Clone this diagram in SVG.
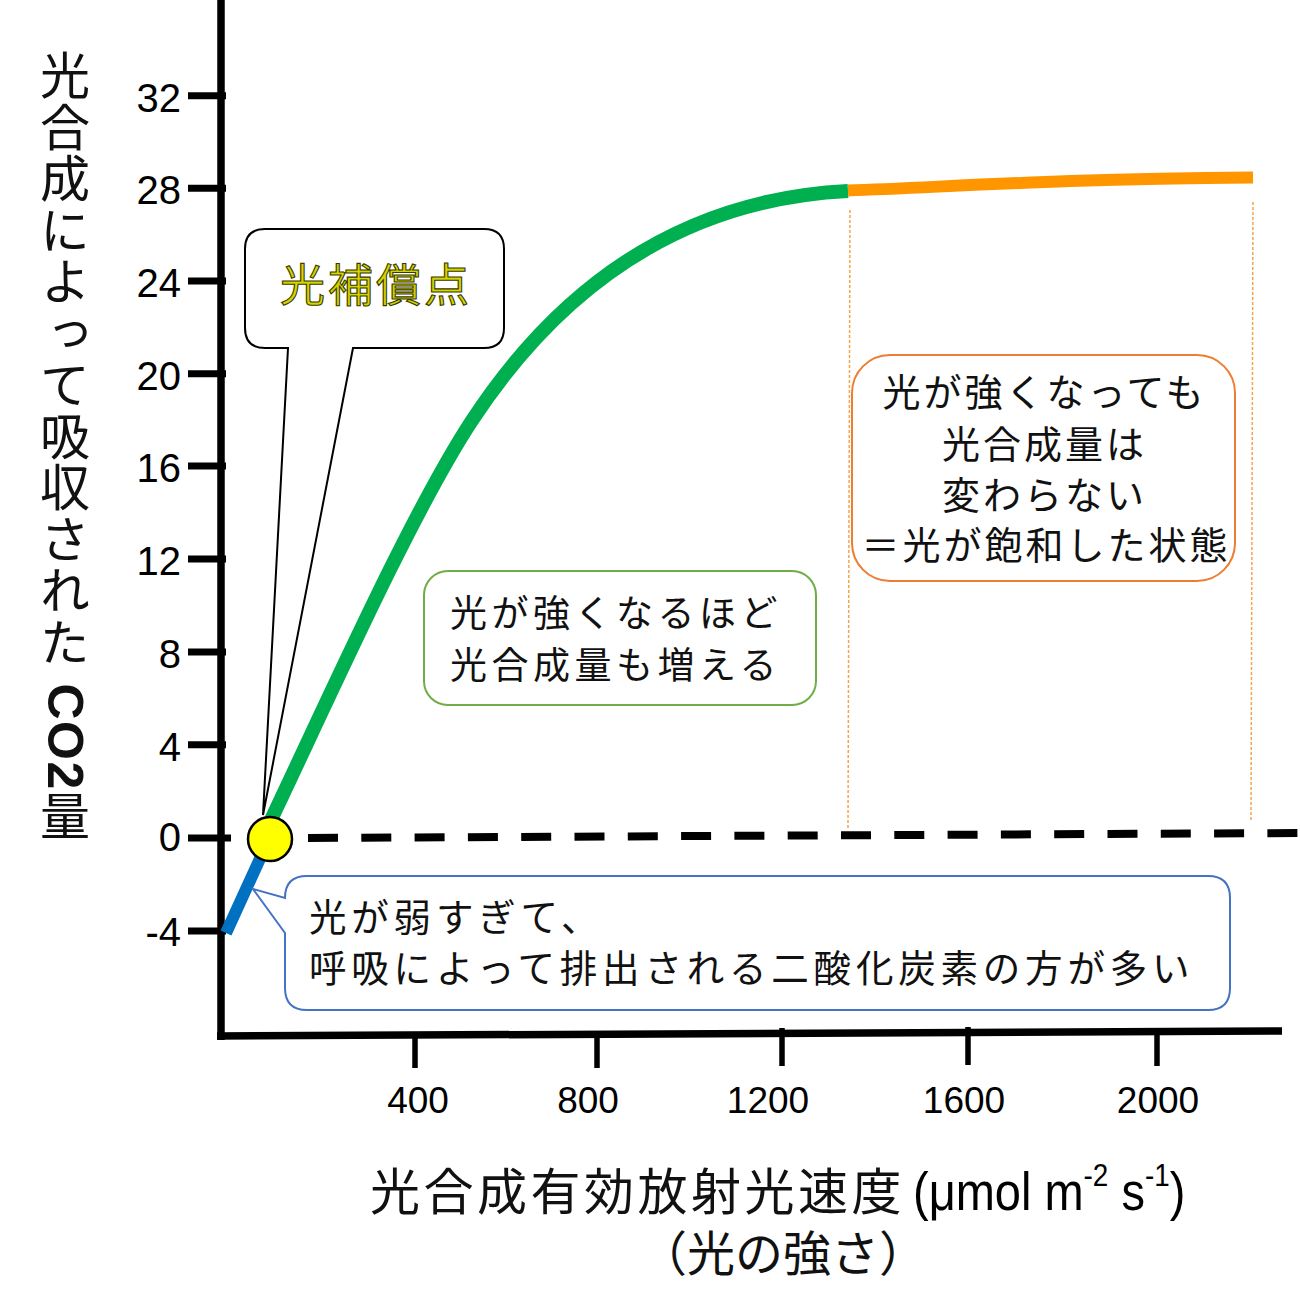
<svg xmlns="http://www.w3.org/2000/svg" width="1300" height="1314" viewBox="0 0 1300 1314">
<style>
.ax{stroke:#000;stroke-width:7.5;fill:none}
.tk{stroke:#000;stroke-width:7;fill:none}
.xt{stroke:#000;stroke-width:5.5;fill:none}
.num{font-family:"Liberation Sans",Arial,sans-serif;fill:#000}
.jp{font-family:"Noto Sans CJK JP","Noto Sans",sans-serif;fill:#111}
.dot{stroke:#F7A24A;stroke-width:1.5;stroke-dasharray:3 2;fill:none}
</style>
<rect x="0" y="0" width="1300" height="1314" fill="#fff"/>

<g id="axes">
  <line class="ax" x1="221" y1="0" x2="221" y2="1040"/>
  <line class="ax" x1="217" y1="1036" x2="1282" y2="1031"/>
  <g id="y-ticks">
    <line class="tk" x1="188" y1="95.7" x2="226" y2="95.7"/>
    <line class="tk" x1="188" y1="188.3" x2="226" y2="188.3"/>
    <line class="tk" x1="188" y1="281" x2="226" y2="281"/>
    <line class="tk" x1="188" y1="373.7" x2="226" y2="373.7"/>
    <line class="tk" x1="188" y1="466" x2="226" y2="466"/>
    <line class="tk" x1="188" y1="559" x2="226" y2="559"/>
    <line class="tk" x1="188" y1="652" x2="226" y2="652"/>
    <line class="tk" x1="188" y1="744.7" x2="226" y2="744.7"/>
    <line class="tk" x1="188" y1="838" x2="231" y2="838"/>
    <line class="tk" x1="188" y1="931" x2="226" y2="931"/>
  </g>
  <g id="y-labels" class="num" font-size="40" text-anchor="end">
    <text x="181" y="112">32</text>
    <text x="181" y="204">28</text>
    <text x="181" y="297">24</text>
    <text x="181" y="390">20</text>
    <text x="181" y="482">16</text>
    <text x="181" y="575">12</text>
    <text x="181" y="668">8</text>
    <text x="181" y="761">4</text>
    <text x="181" y="851">0</text>
    <text x="181" y="946">-4</text>
  </g>
  <g id="x-ticks">
    <line class="xt" x1="415" y1="1035" x2="415" y2="1068"/>
    <line class="xt" x1="597" y1="1034" x2="597" y2="1068"/>
    <line class="xt" x1="782" y1="1028" x2="782" y2="1066"/>
    <line class="xt" x1="968" y1="1027" x2="968" y2="1065"/>
    <line class="xt" x1="1157" y1="1028" x2="1157" y2="1066"/>
  </g>
  <g id="x-labels" class="num" font-size="37" text-anchor="middle">
    <text x="418" y="1113">400</text>
    <text x="588" y="1113">800</text>
    <text x="768" y="1113">1200</text>
    <text x="964" y="1113">1600</text>
    <text x="1158" y="1113">2000</text>
  </g>
</g>

<g id="y-title">
  <text class="jp" x="65" y="50" font-size="50" letter-spacing="1.5" style="writing-mode:vertical-rl">光合成によって吸収された<tspan font-family="Liberation Sans, Arial, sans-serif" font-weight="bold"> CO2</tspan>量</text>
</g>

<g id="x-title">
  <text class="jp" x="370" y="1210" font-size="50" letter-spacing="3.5">光合成有効放射光速度</text>
  <text class="num" transform="translate(913,1210) scale(0.87,1)" font-size="54">(μmol m<tspan font-size="32" dy="-24">-2</tspan><tspan dy="24"> s</tspan><tspan font-size="32" dy="-24">-1</tspan><tspan dy="24">)</tspan></text>
  <text class="jp" x="783" y="1271" font-size="48" text-anchor="middle">（光の強さ）</text>
</g>

<g id="connectors">
  <line id="zero-line" x1="308" y1="838" x2="1300" y2="833" stroke="#000" stroke-width="8" stroke-dasharray="30 23.3"/>
  <line class="dot" x1="850" y1="210" x2="848" y2="828"/>
  <line class="dot" x1="1253" y1="202" x2="1251" y2="820"/>
  <path id="green-curve" d="M266,830 L270,822 C330,696 411,514 471,422 C551,299.6 668,200 848,191" fill="none" stroke="#00B050" stroke-width="14"/>
  <path id="orange-curve" d="M848,190.5 C950,187 1050,179 1253,177.5" fill="none" stroke="#FF9600" stroke-width="12"/>
  <line id="blue-line" x1="226" y1="933" x2="263" y2="852" stroke="#0070C0" stroke-width="12"/>
</g>

<g id="compensation-point">
  <circle cx="270" cy="839" r="22" fill="#FFFF00" stroke="#000" stroke-width="2.5"/>
</g>

<g id="callout-compensation">
  <path d="M265,229 H484 Q504,229 504,249 V328 Q504,348 484,348 H353 L263,815 L288,348 H265 Q245,348 245,328 V249 Q245,229 265,229 Z" fill="#fff" stroke="#000" stroke-width="2"/>
  <text x="280" y="302" font-family="Noto Sans CJK JP, sans-serif" font-size="45" letter-spacing="3" fill="#D4D400" stroke="#3A3A00" stroke-width="1.1">光補償点</text>
</g>

<g id="box-increase">
  <rect x="424" y="571" width="392" height="134" rx="24" fill="#fff" stroke="#70AD47" stroke-width="2"/>
  <text class="jp" x="450" y="627" font-size="37" letter-spacing="4.5">光が強くなるほど</text>
  <text class="jp" x="450" y="679" font-size="37" letter-spacing="4.5">光合成量も増える</text>
</g>

<g id="box-saturation">
  <rect x="852" y="355" width="383" height="226" rx="38" fill="#fff" stroke="#ED7D31" stroke-width="2"/>
  <g class="jp" font-size="38" letter-spacing="3" text-anchor="middle">
    <text x="1044.5" y="406">光が強くなっても</text>
    <text x="1044.5" y="458">光合成量は</text>
    <text x="1044.5" y="509">変わらない</text>
    <text x="1046" y="559">＝光が飽和した状態</text>
  </g>
</g>

<g id="box-respiration">
  <path d="M253,889 L285,898 Q285,876 307,876 H1208 Q1230,876 1230,898 V988 Q1230,1010 1208,1010 H307 Q285,1010 285,988 V933 Z" fill="#fff" stroke="#4472C4" stroke-width="2"/>
  <text class="jp" x="309" y="931" font-size="37.5" letter-spacing="4.8">光が弱すぎて、</text>
  <text class="jp" x="309" y="982" font-size="37.5" letter-spacing="4.8">呼吸によって排出される二酸化炭素の方が多い</text>
</g>
</svg>
